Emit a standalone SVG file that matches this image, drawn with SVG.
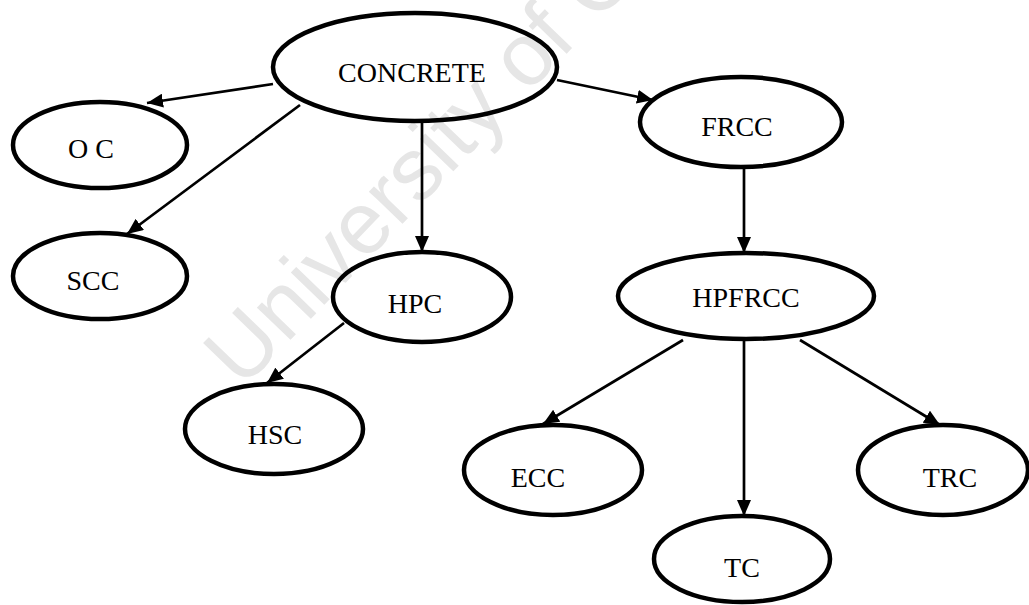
<svg xmlns="http://www.w3.org/2000/svg" width="1029" height="605" viewBox="0 0 1029 605">
<style>
.node ellipse{fill:none;stroke:#000;stroke-width:4.5}
.node text{font-family:"Liberation Serif","Times New Roman",serif;font-size:28px;fill:#000;text-anchor:middle}
.edge{stroke:#000;stroke-width:2.7;fill:none;marker-end:url(#ah)}
.wm{font-family:"Liberation Sans",Arial,sans-serif;font-size:88px;fill:#e6e6e6}
</style>
<defs>
<marker id="ah" markerUnits="userSpaceOnUse" markerWidth="17" markerHeight="14" refX="16" refY="7" orient="auto">
<path d="M0,0 L16,7 L0,14 z" fill="#000"/>
</marker>
</defs>
<rect width="1029" height="605" fill="#fff"/>
<text class="wm" transform="translate(242,390) rotate(-46)">University of C</text>
<g id="connectors">
<line class="edge" x1="273" y1="84" x2="147" y2="103"/>
<line class="edge" x1="300" y1="105" x2="127" y2="234"/>
<line class="edge" x1="422" y1="122" x2="422" y2="252"/>
<line class="edge" x1="557" y1="80" x2="653" y2="100"/>
<line class="edge" x1="744" y1="167" x2="744" y2="253"/>
<line class="edge" x1="344" y1="323" x2="267" y2="383"/>
<line class="edge" x1="683" y1="340" x2="543" y2="424"/>
<line class="edge" x1="744" y1="341" x2="744" y2="516"/>
<line class="edge" x1="800" y1="340" x2="940" y2="425"/>
</g>
<g id="concrete" class="node"><ellipse cx="415" cy="67" rx="142" ry="54"/><text x="412" y="82">CONCRETE</text></g>
<g id="oc" class="node"><ellipse cx="100" cy="145" rx="87" ry="43"/><text x="91" y="158">O C</text></g>
<g id="scc" class="node"><ellipse cx="100" cy="276" rx="87" ry="43"/><text x="93" y="290">SCC</text></g>
<g id="hpc" class="node"><ellipse cx="422" cy="297" rx="89" ry="45"/><text x="415" y="313">HPC</text></g>
<g id="hsc" class="node"><ellipse cx="274" cy="429" rx="89" ry="45"/><text x="275" y="444">HSC</text></g>
<g id="frcc" class="node"><ellipse cx="741" cy="122" rx="101" ry="45"/><text x="737" y="136">FRCC</text></g>
<g id="hpfrcc" class="node"><ellipse cx="746" cy="296" rx="128" ry="43"/><text x="746" y="307">HPFRCC</text></g>
<g id="ecc" class="node"><ellipse cx="553" cy="470" rx="89" ry="45"/><text x="538" y="487">ECC</text></g>
<g id="tc" class="node"><ellipse cx="742" cy="559" rx="88" ry="43"/><text x="742" y="577">TC</text></g>
<g id="trc" class="node"><ellipse cx="943" cy="470" rx="85" ry="45"/><text x="950" y="487">TRC</text></g>
</svg>
